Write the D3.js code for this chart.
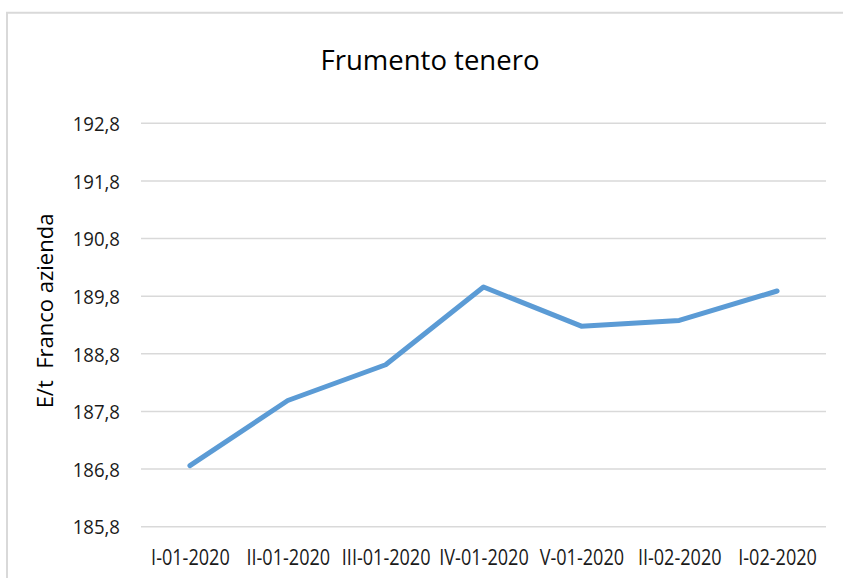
<!DOCTYPE html>
<html>
<head>
<meta charset="utf-8">
<script src="https://cdn.jsdelivr.net/npm/d3@7/dist/d3.min.js"></script>
<style>
  html, body { margin: 0; padding: 0; background: #fff; }
  svg { display: block; font-family: "Open Sans", sans-serif; }
</style>
</head>
<body>
<svg id="chart" width="843" height="578"></svg>
<script>
const categories = ["I-01-2020", "II-01-2020", "III-01-2020", "IV-01-2020", "V-01-2020", "II-02-2020", "I-02-2020"];
const values = [186.86, 187.99, 188.61, 189.96, 189.28, 189.38, 189.89];
const yTicks = [185.8, 186.8, 187.8, 188.8, 189.8, 190.8, 191.8, 192.8];
const titleText = "Frumento tenero";
const yTitleText = "E/t\u00a0\u00a0Franco azienda";

const svg = d3.select("#chart");
const W = 843, H = 578;
const m = { left: 141, right: 826, top: 123.3, bottom: 526.7 };

function condense(sel, factor) {
  sel.each(function () {
    const len = this.getComputedTextLength();
    d3.select(this).attr("textLength", len * factor).attr("lengthAdjust", "spacingAndGlyphs");
  });
}

// outer frame (left and top edges visible)
svg.append("path")
  .attr("d", `M7,${H} V12.7 H${W}`)
  .attr("fill", "none")
  .attr("stroke", "#d9d9d9")
  .attr("stroke-width", 2);

const x = d3.scalePoint().domain(categories).range([m.left, m.right]).padding(0.5);
const y = d3.scaleLinear().domain([185.8, 192.8]).range([m.bottom, m.top]);

// gridlines
svg.append("g")
  .selectAll("line")
  .data(yTicks)
  .join("line")
  .attr("x1", m.left).attr("x2", m.right)
  .attr("y1", d => y(d)).attr("y2", d => y(d))
  .attr("stroke", "#d9d9d9")
  .attr("stroke-width", 1.6);

// y axis labels
const fmt = d => d.toFixed(1).replace(".", ",");
const yAxis = d3.axisLeft(y).tickValues(yTicks).tickFormat(fmt).tickSize(0).tickPadding(0);
const yG = svg.append("g").attr("transform", `translate(120,0)`).call(yAxis);
yG.select(".domain").remove();
yG.selectAll("text")
  .attr("font-family", "Open Sans, sans-serif")
  .attr("font-size", 20)
  .attr("fill", "#1a1a1a")
  .attr("dy", "0.36em")
  .call(condense, 0.93);

// x axis labels
const xAxis = d3.axisBottom(x).tickSize(0).tickPadding(0);
const xG = svg.append("g").attr("transform", `translate(0,${m.bottom})`).call(xAxis);
xG.select(".domain").remove();
xG.selectAll("text")
  .attr("font-family", "Open Sans, sans-serif")
  .attr("font-size", 21)
  .attr("fill", "#1a1a1a")
  .attr("dy", null)
  .attr("y", 38)
  .call(condense, 0.86);

// line
const line = d3.line()
  .x((d, i) => x(categories[i]))
  .y(d => y(d));
svg.append("path")
  .datum(values)
  .attr("d", line)
  .attr("fill", "none")
  .attr("stroke", "#5b9bd5")
  .attr("stroke-width", 5)
  .attr("stroke-linejoin", "round")
  .attr("stroke-linecap", "round");

// title
svg.append("text")
  .attr("x", 430)
  .attr("y", 70)
  .attr("text-anchor", "middle")
  .attr("font-size", 27.5)
  .attr("fill", "#000")
  .text(titleText);

// y axis title
svg.append("text")
  .attr("transform", `translate(53,311) rotate(-90)`)
  .attr("text-anchor", "middle")
  .attr("font-size", 22)
  .attr("fill", "#000")
  .text(yTitleText);
</script>
</body>
</html>
